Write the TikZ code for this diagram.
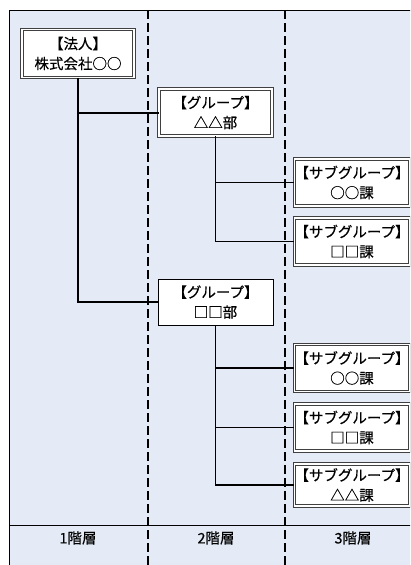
\documentclass[tikz,border=0pt]{standalone}
\usepackage{fontspec}
\setmainfont{Noto Sans CJK JP}[FakeBold=0.4]
\definecolor{panelblue}{HTML}{E4EBF6}
\tikzset{
  unit/.style={draw=black!75, line width=0.9pt, double=white, double distance=1.3pt,
    fill=white, align=center, inner sep=0pt, minimum width=112pt, minimum height=47pt,
    font=\fontsize{14.5}{20}\selectfont},
  plainunit/.style={draw=black, line width=0.9pt, fill=white, align=center, inner sep=0pt,
    minimum width=115pt, minimum height=46pt, font=\fontsize{14.5}{20}\selectfont},
  link/.style={draw=black, line width=1.3pt},
  trunk/.style={draw=black, line width=2pt},
  level/.style={font=\fontsize{14.5}{16}\selectfont},
  divider/.style={draw=black, line width=2pt, dash pattern=on 9pt off 4pt}
}
\begin{document}
\begin{tikzpicture}[x=1pt, y=-1pt]
  \useasboundingbox (0,0) rectangle (410,565);
  \clip (0,0) rectangle (410,565);
  \fill[panelblue] (9,10) rectangle (420,575);
  \draw[line width=0.9pt] (420,10) -- (9,10) -- (9,575);
  \draw[line width=0.9pt] (9,525) -- (420,525);
  \draw[divider] (148,10) -- (148,575);
  \draw[divider] (285,10) -- (285,575);

  \node[unit, minimum height=48pt] (hojin) at (78,53.5) {【法人】\\株式会社○○};
  \node[unit, minimum width=113pt] (bu1) at (215.5,112.5) {【グループ】\\△△部};
  \node[plainunit] (bu2) at (215.5,302) {【グループ】\\□□部};

  \node[unit, minimum width=115pt] (ka1) at (352,182.5) {【サブグループ】\\○○課};
  \node[unit, minimum width=115pt] (ka2) at (352,241.5) {【サブグループ】\\□□課};
  \node[unit, minimum width=115pt] (ka3) at (352,368) {【サブグループ】\\○○課};
  \node[unit, minimum width=115pt] (ka4) at (352,427.5) {【サブグループ】\\□□課};
  \node[unit, minimum width=115pt, minimum height=42pt] (ka5) at (352,485) {【サブグループ】\\△△課};

  \draw[trunk] (hojin.south) |- (bu1.west);
  \draw[trunk] (hojin.south) |- (bu2.west);
  \draw[link] (bu1.south) |- (ka1.west);
  \draw[link] (bu1.south) |- (ka2.west);
  \draw[link] (bu2.south) |- (ka3.west);
  \draw[link] (bu2.south) |- (ka4.west);
  \draw[link] (bu2.south) |- (ka5.west);

  \node[level] (lv1) at (78,538) {1階層};
  \node[level] (lv2) at (216,538) {2階層};
  \node[level] (lv3) at (353,538) {3階層};
\end{tikzpicture}
\end{document}
